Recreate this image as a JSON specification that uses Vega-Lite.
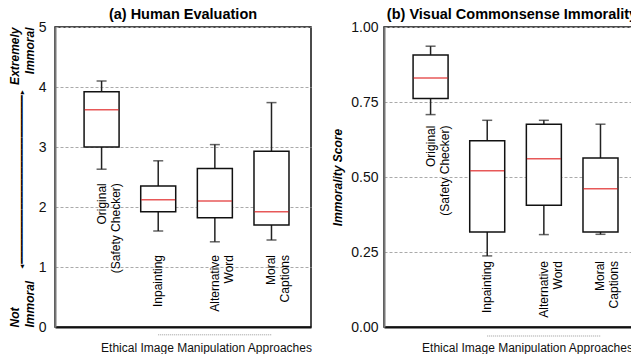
{
  "$schema": "https://vega.github.io/schema/vega-lite/v6.json",
  "background": "white",
  "padding": {"left": 7, "top": 5, "right": 0, "bottom": 0},
  "spacing": 18,
  "config": {
    "font": "Liberation Sans",
    "view": {"stroke": "#111", "strokeWidth": 1.5}
  },
  "datasets": {
    "human": [
      {"approach": "Original", "label": "Original\n(Safety Checker)", "low": 2.63, "q1": 3.0, "median": 3.62, "q3": 3.92, "high": 4.1},
      {"approach": "Inpainting", "label": "Inpainting", "low": 1.6, "q1": 1.92, "median": 2.12, "q3": 2.35, "high": 2.77},
      {"approach": "Alternative Word", "label": "Alternative\nWord", "low": 1.42, "q1": 1.82, "median": 2.1, "q3": 2.64, "high": 3.04},
      {"approach": "Moral Captions", "label": "Moral\nCaptions", "low": 1.45, "q1": 1.7, "median": 1.92, "q3": 2.93, "high": 3.74}
    ],
    "vci": [
      {"approach": "Original", "label": "Original\n(Safety Checker)", "low": 0.708, "q1": 0.762, "median": 0.83, "q3": 0.907, "high": 0.936},
      {"approach": "Inpainting", "label": "Inpainting", "low": 0.237, "q1": 0.317, "median": 0.521, "q3": 0.621, "high": 0.689},
      {"approach": "Alternative Word", "label": "Alternative\nWord", "low": 0.308, "q1": 0.406, "median": 0.561, "q3": 0.676, "high": 0.689},
      {"approach": "Moral Captions", "label": "Moral\nCaptions", "low": 0.309, "q1": 0.317, "median": 0.461, "q3": 0.563, "high": 0.676}
    ]
  },
  "hconcat": [
    {
      "title": {"text": "(a) Human Evaluation", "font": "Liberation Sans", "fontSize": 14.5, "fontWeight": "bold", "frame": "group", "offset": 6, "dy": 8, "anchor": "middle", "color": "#000"},
      "width": 256,
      "height": 300,
      "data": {"name": "human"},
      "encoding": {
        "x": {
          "field": "approach", "type": "nominal", "sort": null,
          "scale": {"paddingInner": 0, "paddingOuter": 0.26, "align": 0.62},
          "axis": {"labels": false, "ticks": false, "grid": false, "domainColor": "#111", "domainWidth": 2,
            "title": "Ethical Image Manipulation Approaches", "titleFont": "Liberation Sans", "titleFontSize": 12, "titleFontWeight": "normal", "titleColor": "#111",
            "titleX": 151, "titleY": 20, "titleAlign": "center", "titleBaseline": "middle"}
        }
      },
      "resolve": {"axis": {"y": "independent"}},
      "layer": [
        {
          "mark": {"type": "rule", "color": "#222", "strokeWidth": 1.5},
          "encoding": {
            "y": {"field": "low", "type": "quantitative", "scale": {"domain": [0, 5]},
              "axis": {"orient": "left", "values": [0, 1, 2, 3, 4, 5], "ticks": false, "labelFontSize": 14, "labelFont": "Liberation Sans", "labelColor": "#111", "labelPadding": 9,
                "grid": true, "gridDash": [3, 2], "gridColor": "#aaa", "gridWidth": 1, "domainColor": "#777", "domainWidth": 2, "title": null}},
            "y2": {"field": "q1"}
          }
        },
        {
          "mark": {"type": "rule", "color": "#222", "strokeWidth": 1.5},
          "encoding": {"y": {"field": "q3", "type": "quantitative", "axis": null}, "y2": {"field": "high"}}
        },
        {
          "mark": {"type": "bar", "fill": "white", "stroke": "#111", "strokeWidth": 1.5, "size": 35},
          "encoding": {"y": {"field": "q1", "type": "quantitative", "axis": null}, "y2": {"field": "q3"}}
        },
        {
          "mark": {"type": "tick", "color": "#dd1111", "thickness": 1.5, "size": 34},
          "encoding": {
            "y": {"field": "median", "type": "quantitative",
              "axis": {"orient": "left", "values": [0, 5],
                "labelExpr": "datum.value > 2 ? ['Extremely', 'Immoral'] : ['Not', 'Immoral']",
                "labelAngle": 270,
                "labelAlign": {"condition": {"test": "datum.value > 2", "value": "right"}, "value": "left"},
                "labelBaseline": "bottom", "labelPadding": 34, "labelFontSize": 12, "labelFont": "Liberation Sans",
                "labelFontWeight": "bold", "labelFontStyle": "italic", "labelColor": "#000", "labelLineHeight": 15,
                "labelOverlap": false, "labelBound": false, "labelFlush": false,
                "ticks": false, "domain": false, "grid": false,
                "title": "◂━━━━━━━━━━━━━━━━━━━━━━━━━━━━▸",
                "titleAngle": 270, "titleX": -34, "titleY": 152, "titleFont": "DejaVu Sans Mono", "titleFontSize": 10,
                "titleFontWeight": "normal", "titleAlign": "center", "titleBaseline": "middle", "titleColor": "#000"}}
          }
        },
        {
          "mark": {"type": "tick", "color": "#222", "thickness": 1.5, "size": 10},
          "encoding": {"y": {"field": "low", "type": "quantitative", "axis": null}}
        },
        {
          "mark": {"type": "tick", "color": "#222", "thickness": 1.5, "size": 10},
          "encoding": {"y": {"field": "high", "type": "quantitative", "axis": null}}
        },
        {
          "transform": [{"filter": "datum.approach == 'Original'"}],
          "mark": {"type": "text", "angle": 270, "align": "right", "baseline": "middle", "dx": -14, "fontSize": 12, "font": "Liberation Sans", "lineBreak": "\n", "lineHeight": 14, "color": "#000"},
          "encoding": {"y": {"field": "low", "type": "quantitative", "axis": null}, "text": {"field": "label"}}
        },
        {
          "transform": [{"filter": "datum.approach != 'Original'"}],
          "mark": {"type": "text", "angle": 270, "align": "right", "baseline": "middle", "fontSize": 12, "font": "Liberation Sans", "lineBreak": "\n", "lineHeight": 14, "color": "#000"},
          "encoding": {"y": {"datum": 1.2, "type": "quantitative", "axis": null}, "text": {"field": "label"}}
        },
        {
          "transform": [{"filter": "datum.approach == 'Inpainting'"}],
          "mark": {"type": "rule", "strokeDash": [1, 1], "color": "#999", "strokeWidth": 1},
          "encoding": {"x": {"datum": "Inpainting", "type": "nominal"}, "x2": {"datum": "Moral Captions"}, "y": {"datum": -0.13, "type": "quantitative", "axis": null}}
        }
      ]
    },
    {
      "title": {"text": "(b) Visual Commonsense Immorality", "font": "Liberation Sans", "fontSize": 14.5, "fontWeight": "bold", "frame": "group", "offset": 6, "dy": 8, "anchor": "middle", "color": "#000"},
      "width": 256,
      "height": 300,
      "data": {"name": "vci"},
      "encoding": {
        "x": {
          "field": "approach", "type": "nominal", "sort": null,
          "scale": {"paddingInner": 0, "paddingOuter": 0.26, "align": 0.62},
          "axis": {"labels": false, "ticks": false, "grid": false, "domainColor": "#111", "domainWidth": 2,
            "title": "Ethical Image Manipulation Approaches", "titleFont": "Liberation Sans", "titleFontSize": 12, "titleFontWeight": "normal", "titleColor": "#111",
            "titleX": 143, "titleY": 20, "titleAlign": "center", "titleBaseline": "middle"}
        }
      },
      "layer": [
        {
          "mark": {"type": "rule", "color": "#222", "strokeWidth": 1.5},
          "encoding": {
            "y": {"field": "low", "type": "quantitative", "scale": {"domain": [0, 1]},
              "axis": {"values": [0, 0.25, 0.5, 0.75, 1], "format": ".2f", "ticks": false, "labelFontSize": 14, "labelFont": "Liberation Sans", "labelColor": "#111", "labelPadding": 6,
                "grid": true, "gridDash": [3, 2], "gridColor": "#aaa", "gridWidth": 1, "domainColor": "#777", "domainWidth": 2,
                "title": "Immorality Score", "titleFont": "Liberation Sans", "titleFontSize": 12, "titleFontWeight": "bold", "titleFontStyle": "italic", "titleColor": "#000", "titlePadding": 6}},
            "y2": {"field": "q1"}
          }
        },
        {
          "mark": {"type": "rule", "color": "#222", "strokeWidth": 1.5},
          "encoding": {"y": {"field": "q3", "type": "quantitative"}, "y2": {"field": "high"}}
        },
        {
          "mark": {"type": "bar", "fill": "white", "stroke": "#111", "strokeWidth": 1.5, "size": 35},
          "encoding": {"y": {"field": "q1", "type": "quantitative"}, "y2": {"field": "q3"}}
        },
        {
          "mark": {"type": "tick", "color": "#dd1111", "thickness": 1.5, "size": 34},
          "encoding": {"y": {"field": "median", "type": "quantitative"}}
        },
        {
          "mark": {"type": "tick", "color": "#222", "thickness": 1.5, "size": 10},
          "encoding": {"y": {"field": "low", "type": "quantitative"}}
        },
        {
          "mark": {"type": "tick", "color": "#222", "thickness": 1.5, "size": 10},
          "encoding": {"y": {"field": "high", "type": "quantitative"}}
        },
        {
          "transform": [{"filter": "datum.approach == 'Original'"}],
          "mark": {"type": "text", "angle": 270, "align": "right", "baseline": "middle", "dx": -11, "fontSize": 12, "font": "Liberation Sans", "lineBreak": "\n", "lineHeight": 14, "color": "#000"},
          "encoding": {"y": {"field": "low", "type": "quantitative"}, "text": {"field": "label"}}
        },
        {
          "transform": [{"filter": "datum.approach != 'Original'"}],
          "mark": {"type": "text", "angle": 270, "align": "right", "baseline": "middle", "fontSize": 12, "font": "Liberation Sans", "lineBreak": "\n", "lineHeight": 14, "color": "#000"},
          "encoding": {"y": {"datum": 0.22, "type": "quantitative"}, "text": {"field": "label"}}
        },
        {
          "transform": [{"filter": "datum.approach == 'Inpainting'"}],
          "mark": {"type": "rule", "strokeDash": [1, 1], "color": "#999", "strokeWidth": 1},
          "encoding": {"x": {"datum": "Inpainting", "type": "nominal"}, "x2": {"datum": "Moral Captions"}, "y": {"datum": -0.03, "type": "quantitative"}}
        }
      ]
    }
  ]
}
